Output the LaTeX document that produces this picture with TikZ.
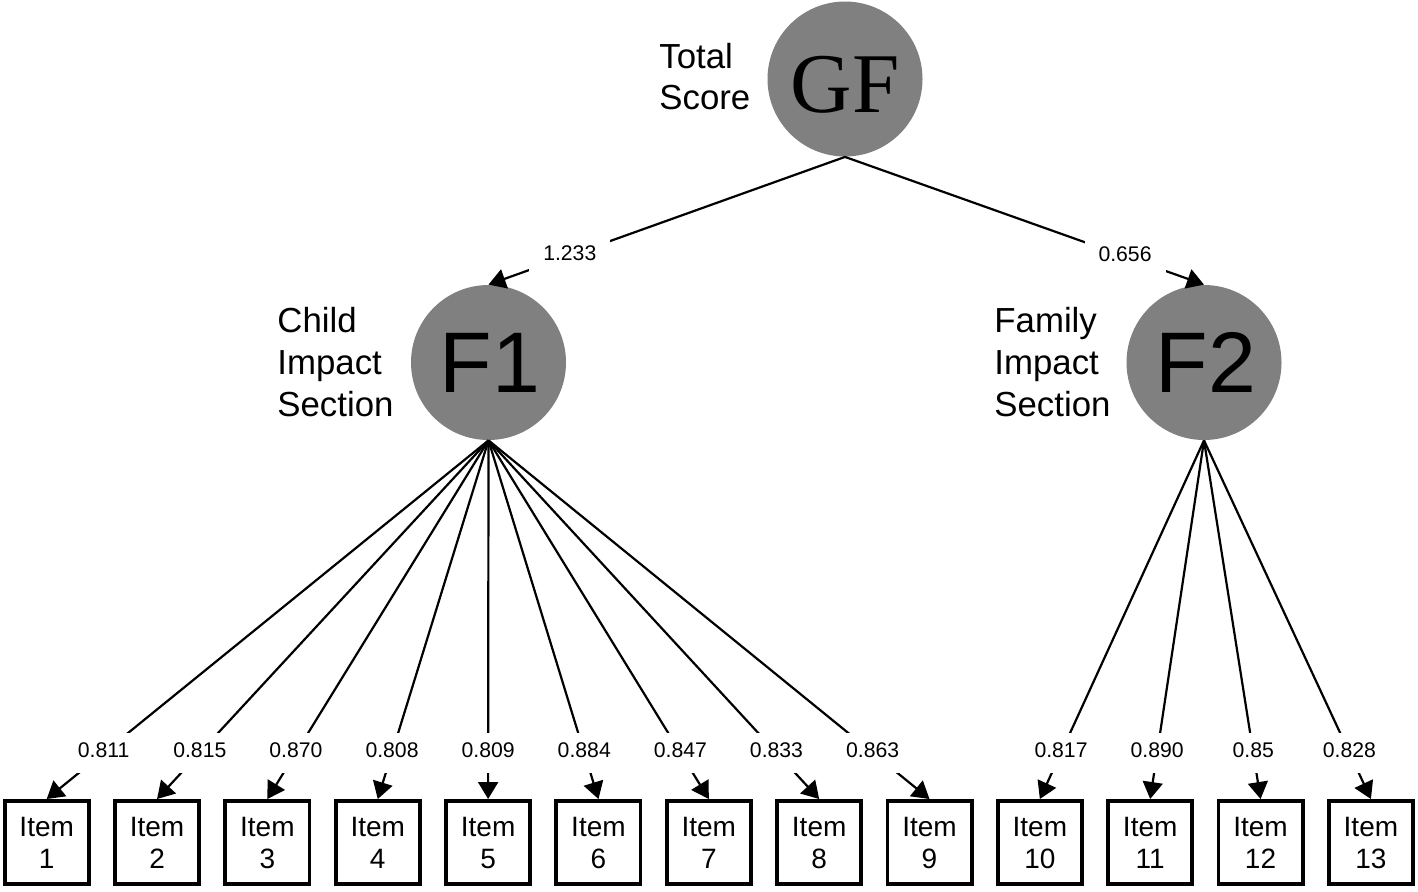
\documentclass[tikz,border=0pt]{standalone}
\usepackage{fontspec}
\setmainfont{Liberation Sans}
\newfontfamily\gfserif{Liberation Serif}
\usetikzlibrary{arrows.meta}
\definecolor{latentgray}{RGB}{128,128,128}
\begin{document}
\begin{tikzpicture}[x=0.5pt,y=-0.5pt,
  latent/.style={circle,fill=latentgray,minimum size=77.5pt,inner sep=0pt},
  latenttext/.style={inner sep=0pt,font=\fontsize{43}{50}\selectfont},
  itembox/.style={draw,line width=1.9pt,minimum width=42.1pt,minimum height=41.6pt,inner sep=0pt,align=center,font=\fontsize{14}{16}\selectfont},
  loading/.style={line width=1.1pt,-{Triangle[length=8.5pt,width=10pt]}},
  coef/.style={fill=white,font=\fontsize{10.6}{12}\selectfont,inner xsep=7pt,inner ysep=5pt,text height=7.7pt,text depth=2.5pt},
  side/.style={align=left,anchor=west,inner sep=0pt,font=\fontsize{17.4}{20.8}\selectfont}]
\useasboundingbox (0,0) rectangle (1418,891);

% latent factors
\node[latent] (GF) at (845,79) {};
\node[latenttext,font=\gfserif\fontsize{42.5}{50}\selectfont] (GFtext) at (845,85) {GF};
\node[latent] (F1) at (488.5,362.5) {};
\node[latenttext] (F1text) at (490,362.5) {F1};
\node[latent] (F2) at (1204,362.5) {};
\node[latenttext] (F2text) at (1206,362.5) {F2};

% side labels
\node[side] (lGF) at (659,76.5) {Total\\Score};
\node[side] (lF1) at (277,362) {Child\\Impact\\Section};
\node[side] (lF2) at (994,362) {Family\\Impact\\Section};

% items
\foreach \i in {1,...,13}
  \node[itembox] (i\i) at ({46.7+(\i-1)*110.35},842.5) {Item\\\i};

% second-order paths
\draw[loading] (GF.south) -- node[coef,pos=0.772] {1.233} (F1.north);
\draw[loading] (GF.south) -- node[coef,pos=0.78] {0.656} (F2.north);

% first-order loadings
\foreach \i/\c in {1/0.811,2/0.815,3/0.870,4/0.808,5/0.809,6/0.884,7/0.847,8/0.833,9/0.863}
  \draw[loading] (F1.south) -- node[coef,pos=0.871] {\c} (i\i.north);
\foreach \i/\c in {10/0.817,11/0.890,12/0.85,13/0.828}
  \draw[loading] (F2.south) -- node[coef,pos=0.871] {\c} (i\i.north);
\end{tikzpicture}
\end{document}
